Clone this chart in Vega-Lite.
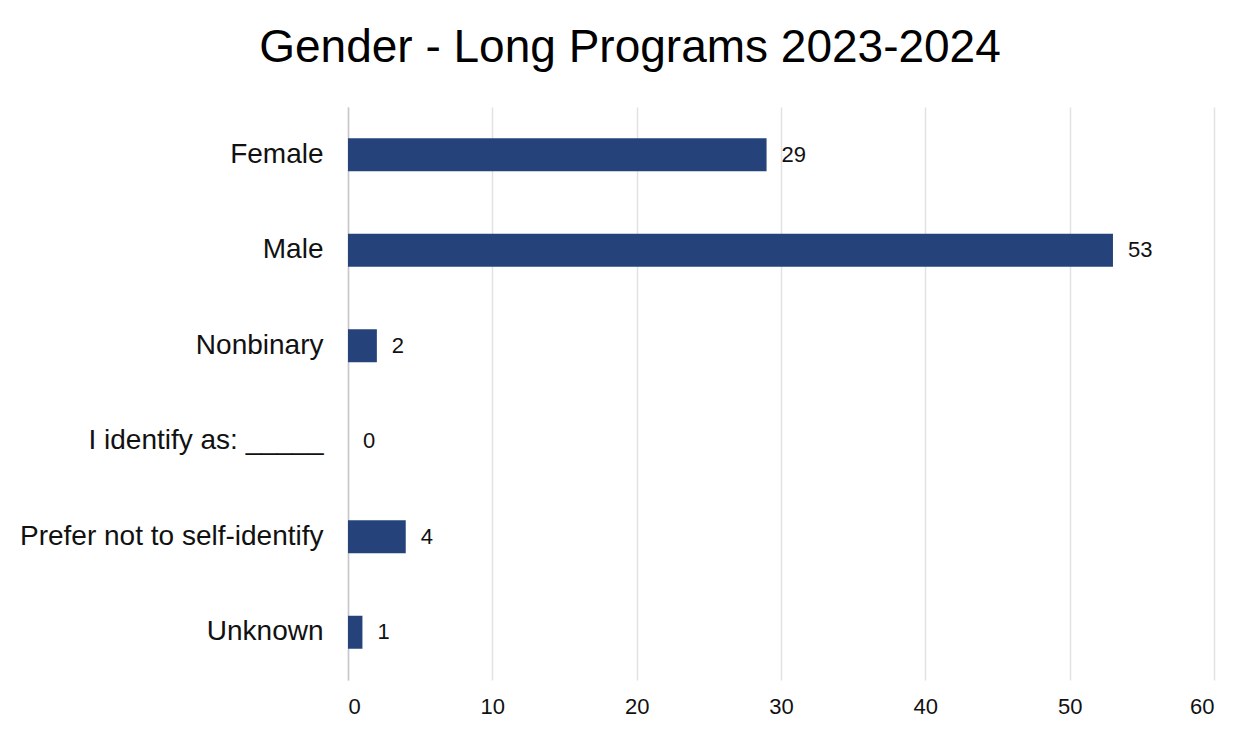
{
  "$schema": "https://vega.github.io/schema/vega-lite/v6.json",
  "autosize": {"type": "none"},
  "padding": {"left": 348, "top": 107, "right": 36, "bottom": 50},
  "width": 866,
  "height": 573,
  "background": "white",
  "title": {
    "text": "Gender - Long Programs 2023-2024",
    "font": "Liberation Sans",
    "fontSize": 46,
    "fontWeight": "normal",
    "color": "#000000",
    "anchor": "middle",
    "baseline": "alphabetic",
    "offset": -1,
    "dx": -151
  },
  "data": {
    "values": [
      {"gender": "Female", "count": 29},
      {"gender": "Male", "count": 53},
      {"gender": "Nonbinary", "count": 2},
      {"gender": "I identify as: _____", "count": 0},
      {"gender": "Prefer not to self-identify", "count": 4},
      {"gender": "Unknown", "count": 1}
    ]
  },
  "encoding": {
    "y": {
      "field": "gender",
      "type": "nominal",
      "sort": null,
      "scale": {"paddingInner": 0, "paddingOuter": 0},
      "axis": {
        "title": null,
        "ticks": false,
        "domain": true,
        "domainColor": "#c8c8c8",
        "domainWidth": 1.5,
        "labelFont": "Liberation Sans",
        "labelFontSize": 28,
        "labelColor": "#111111",
        "labelPadding": 25,
        "labelLimit": 400
      }
    },
    "x": {
      "field": "count",
      "type": "quantitative",
      "scale": {"domain": [0, 60], "nice": false},
      "axis": {
        "title": null,
        "values": [0, 10, 20, 30, 40, 50, 60],
        "ticks": false,
        "domain": false,
        "grid": true,
        "gridColor": "#e2e2e2",
        "gridWidth": 1.5,
        "labelFont": "Liberation Sans",
        "labelFontSize": 22,
        "labelColor": "#111111",
        "labelPadding": 16
      }
    }
  },
  "layer": [
    {
      "mark": {"type": "bar", "size": 33, "color": "#25437a"}
    },
    {
      "mark": {
        "type": "text",
        "align": "left",
        "baseline": "middle",
        "dx": 15,
        "font": "Liberation Sans",
        "fontSize": 22,
        "color": "#111111"
      },
      "encoding": {"text": {"field": "count", "type": "quantitative"}}
    }
  ],
  "config": {"view": {"stroke": null}}
}
